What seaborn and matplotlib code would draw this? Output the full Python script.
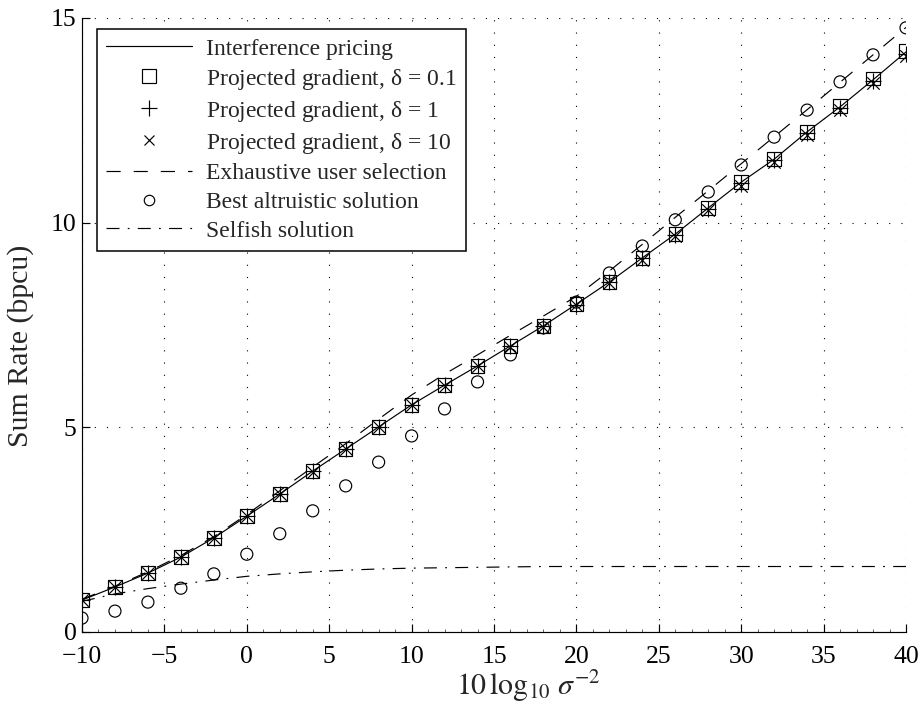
import numpy as np
import pandas as pd
import matplotlib
matplotlib.use("Agg")
import matplotlib.pyplot as plt
from matplotlib.lines import Line2D
from matplotlib.ticker import MultipleLocator
import seaborn as sns

snr_db = [-10, -8, -6, -4, -2, 0, 2, 4, 6, 8, 10, 12, 14, 16, 18, 20,
          22, 24, 26, 28, 30, 32, 34, 36, 38, 40]

interference_pricing = [0.78, 1.10, 1.44, 1.83, 2.30, 2.83, 3.37, 3.93, 4.47, 5.01,
                        5.55, 6.03, 6.50, 6.99, 7.48, 8.01, 8.55, 9.14, 9.72, 10.36,
                        10.99, 11.55, 12.22, 12.83, 13.49, 14.17]
pg_delta_01 = [0.78, 1.10, 1.44, 1.83, 2.30, 2.83, 3.37, 3.93, 4.47, 5.01,
               5.55, 6.03, 6.50, 6.99, 7.48, 8.01, 8.55, 9.14, 9.72, 10.36,
               10.99, 11.55, 12.22, 12.85, 13.52, 14.20]
pg_delta_1 = [0.78, 1.10, 1.44, 1.83, 2.30, 2.83, 3.37, 3.93, 4.47, 5.01,
              5.55, 6.03, 6.50, 6.98, 7.47, 8.00, 8.54, 9.13, 9.71, 10.34,
              10.96, 11.52, 12.18, 12.80, 13.46, 14.12]
pg_delta_10 = [0.78, 1.10, 1.44, 1.83, 2.30, 2.83, 3.37, 3.92, 4.46, 5.00,
               5.54, 6.02, 6.49, 6.97, 7.46, 7.99, 8.52, 9.10, 9.68, 10.30,
               10.90, 11.48, 12.13, 12.75, 13.40, 14.06]
exhaustive = [0.80, 1.12, 1.47, 1.87, 2.33, 2.87, 3.45, 4.03, 4.60, 5.20,
              5.79, 6.30, 6.77, 7.25, 7.72, 8.20, 8.82, 9.47, 10.13, 10.78,
              11.44, 12.10, 12.76, 13.43, 14.10, 14.77]
best_altruistic = [0.34, 0.51, 0.73, 1.07, 1.42, 1.90, 2.40, 2.96, 3.57, 4.15,
                   4.79, 5.45, 6.11, 6.77, 7.43, 8.06, 8.77, 9.43, 10.07, 10.75,
                   11.41, 12.09, 12.75, 13.44, 14.10, 14.76]
selfish = [0.75, 0.93, 1.06, 1.17, 1.27, 1.36, 1.42, 1.47, 1.51, 1.54,
           1.56, 1.57, 1.58, 1.59, 1.60, 1.60, 1.60, 1.60, 1.60, 1.60,
           1.60, 1.60, 1.60, 1.60, 1.60, 1.60]

labels = ["Interference pricing",
          r"Projected gradient, $\mathregular{\delta}$ = 0.1",
          r"Projected gradient, $\mathregular{\delta}$ = 1",
          r"Projected gradient, $\mathregular{\delta}$ = 10",
          "Exhaustive user selection",
          "Best altruistic solution",
          "Selfish solution"]
x_ticks = [-10, -5, 0, 5, 10, 15, 20, 25, 30, 35, 40]
x_tick_labels = ["\u221210", "\u22125", "0", "5", "10", "15", "20", "25", "30", "35", "40"]
y_ticks = [0, 5, 10, 15]

df = pd.DataFrame({"x": snr_db, "ip": interference_pricing, "pg01": pg_delta_01,
                   "pg1": pg_delta_1, "pg10": pg_delta_10, "ex": exhaustive,
                   "ba": best_altruistic, "sf": selfish})

sns.set_style("white")
plt.rcParams["font.family"] = ["Liberation Serif", "DejaVu Serif"]
plt.rcParams["mathtext.fontset"] = "stix"

LW = 0.85
DASH = [12, 11]
DASHDOT = [11, 7, 1.5, 7]

fig = plt.figure(figsize=(9.21, 7.04), dpi=100)
ax = fig.add_axes([82 / 921, 1 - 632 / 704, 824 / 921, 614 / 704])

sns.lineplot(data=df, x="x", y="ip", ax=ax, color="black", lw=LW)
sns.lineplot(data=df, x="x", y="ex", ax=ax, color="black", lw=LW)
ax.lines[-1].set_dashes(DASH)
sns.lineplot(data=df, x="x", y="sf", ax=ax, color="black", lw=LW)
ax.lines[-1].set_dashes(DASHDOT)

sns.scatterplot(data=df, x="x", y="pg01", ax=ax, marker="s", s=95, facecolor="none",
                edgecolor="black", linewidth=LW, zorder=3)
sns.scatterplot(data=df, x="x", y="pg1", ax=ax, marker="+", s=130, color="black",
                linewidth=LW, zorder=3)
sns.scatterplot(data=df, x="x", y="pg10", ax=ax, marker="x", s=80, color="black",
                linewidth=LW, zorder=3)
sns.scatterplot(data=df, x="x", y="ba", ax=ax, marker="o", s=75, facecolor="none",
                edgecolor="black", linewidth=LW, zorder=3)

ax.set_xlim(-10, 40)
ax.set_ylim(0, 15)
ax.set_xticks(x_ticks)
ax.set_xticklabels(x_tick_labels)
ax.set_yticks(y_ticks)
ax.xaxis.set_minor_locator(MultipleLocator(1))
ax.tick_params(axis="x", which="major", pad=10)
ax.tick_params(axis="y", which="major", pad=4)
ax.tick_params(axis="both", which="major", direction="in", length=6, width=LW,
               labelsize=18.5, bottom=True, left=True, top=False, right=False,
               colors="black")
ax.tick_params(axis="x", which="minor", direction="in", length=2.5, width=0.5,
               bottom=True, top=False)
ax.grid(True, which="major", linestyle=(0, (1, 10)), color="black", linewidth=0.8)
for s in ["top", "right"]:
    ax.spines[s].set_visible(False)
for s in ["left", "bottom"]:
    ax.spines[s].set_color("black")
    ax.spines[s].set_linewidth(LW)

ax.set_xlabel(r"$10\,\log_{10}\,\sigma^{-2}$", fontsize=21.5)
ax.xaxis.set_label_coords(0.541, -0.059)
ax.set_ylabel("Sum Rate (bpcu)", fontsize=21.5)
ax.yaxis.set_label_coords(-0.058, 0.466)

handles = [
    Line2D([], [], color="black", lw=LW),
    Line2D([], [], color="black", marker="s", ls="none", markersize=9.5, mfc="none", mew=LW),
    Line2D([], [], color="black", marker="+", ls="none", markersize=11, mew=LW),
    Line2D([], [], color="black", marker="x", ls="none", markersize=7.5, mew=LW),
    Line2D([], [], color="black", lw=LW, dashes=DASH),
    Line2D([], [], color="black", marker="o", ls="none", markersize=7.5, mfc="none", mew=LW),
    Line2D([], [], color="black", lw=LW, dashes=DASHDOT),
]
leg = ax.legend(handles, labels, loc="upper left",
                bbox_to_anchor=((97 - 82) / 824, (632 - 29) / 614),
                fontsize=17.0, frameon=True, fancybox=False, handlelength=3.65,
                labelspacing=0.3, borderpad=0.38, handletextpad=0.6, borderaxespad=0,
                framealpha=1)
leg.get_frame().set_edgecolor("black")
leg.get_frame().set_linewidth(1.1)

fig.savefig("out.png", dpi=100)
